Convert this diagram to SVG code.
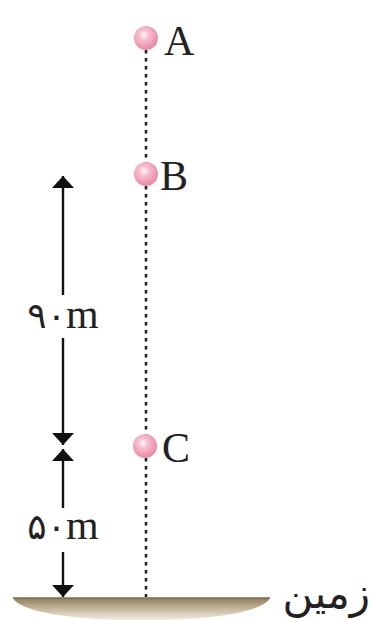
<svg xmlns="http://www.w3.org/2000/svg" width="374" height="620" viewBox="0 0 374 620">
<defs>
<radialGradient id="ball" cx="0.42" cy="0.38" r="0.65">
<stop offset="0" stop-color="#ffffff"/>
<stop offset="0.25" stop-color="#f9c6d4"/>
<stop offset="0.75" stop-color="#ee98b0"/>
<stop offset="1" stop-color="#e58aa4"/>
</radialGradient>
<linearGradient id="ground" x1="0" y1="0" x2="0" y2="1">
<stop offset="0" stop-color="#8c7b5c"/>
<stop offset="0.3" stop-color="#b3a382"/>
<stop offset="1" stop-color="#f4f0e6"/>
</linearGradient>
<marker id="ah" viewBox="0 0 12 22" refX="12" refY="11" markerWidth="12" markerHeight="22" markerUnits="userSpaceOnUse" orient="auto">
<path d="M0,0 L22,11 L0,22 Z" transform="scale(0.545,1)" fill="#111"/>
</marker>
<style>
.lbl{font-family:"Liberation Serif","Times New Roman",serif;font-size:42px;fill:#222}
.fa{font-family:"DejaVu Sans","Noto Sans",sans-serif;fill:#222}
.dash{stroke:#222;stroke-width:2.6;stroke-dasharray:3.5 4.5;fill:none}
.dim{stroke:#111;stroke-width:2.4;fill:none}
</style>
</defs>
<g id="ground-node">
<path d="M13,598 L270,598 C256,628 27,628 13,598 Z" fill="url(#ground)"/>
<line x1="13" y1="598" x2="270" y2="598" stroke="#7d6c50" stroke-width="1.5"/>
<text class="fa" x="370" y="608" font-size="42" text-anchor="end">زمین</text>
</g>
<g id="connectors">
<line class="dash" x1="146" y1="50" x2="146" y2="597"/>
<line class="dim" x1="63" y1="295" x2="63" y2="176" marker-end="url(#ah)"/>
<line class="dim" x1="63" y1="338" x2="63" y2="445" marker-end="url(#ah)"/>
<line class="dim" x1="63" y1="508" x2="63" y2="449" marker-end="url(#ah)"/>
<line class="dim" x1="63" y1="552" x2="63" y2="597" marker-end="url(#ah)"/>
</g>
<g id="A">
<circle cx="146" cy="38" r="12" fill="url(#ball)"/>
<text class="lbl" x="164" y="55">A</text>
</g>
<g id="B">
<circle cx="146" cy="174" r="12" fill="url(#ball)"/>
<text class="lbl" x="160" y="190">B</text>
</g>
<g id="C">
<circle cx="145" cy="446" r="12" fill="url(#ball)"/>
<text class="lbl" x="162" y="462">C</text>
</g>
<g id="label-90">
<text x="63" y="328" text-anchor="middle" direction="ltr"><tspan class="fa" font-size="36">۹۰</tspan><tspan class="lbl">m</tspan></text>
</g>
<g id="label-50">
<text x="63" y="539" text-anchor="middle" direction="ltr"><tspan class="fa" font-size="36">۵۰</tspan><tspan class="lbl">m</tspan></text>
</g>
</svg>
